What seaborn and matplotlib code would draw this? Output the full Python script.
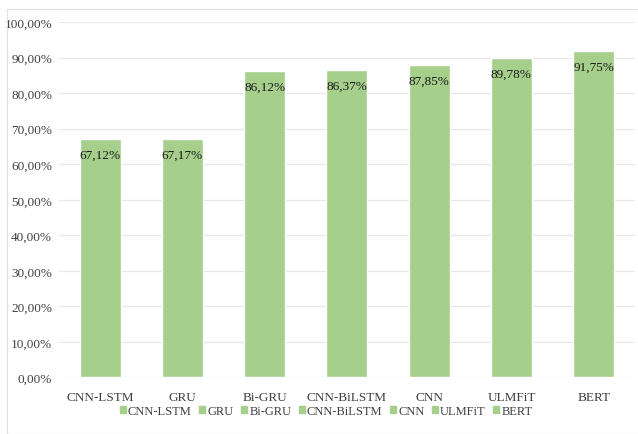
import matplotlib
matplotlib.use("Agg")
import matplotlib.pyplot as plt
import matplotlib.patches as mpatches
import seaborn as sns
import pandas as pd
from matplotlib.ticker import FuncFormatter

models = ["CNN-LSTM", "GRU", "Bi-GRU", "CNN-BiLSTM", "CNN", "ULMFiT", "BERT"]
accuracy = [67.12, 67.17, 86.12, 86.37, 87.85, 89.78, 91.75]
y_ticks = [0, 10, 20, 30, 40, 50, 60, 70, 80, 90, 100]

bar_color = "#A6CF8C"
text_color = "#404040"

sns.set_style("white")
plt.rcParams["font.family"] = ["Liberation Serif", "DejaVu Serif"]

df = pd.DataFrame({"model": models, "accuracy": accuracy})

fig = plt.figure(figsize=(6.38, 4.35), dpi=100)
ax = fig.add_axes([0.0925, 0.13, 0.9025, 0.817])

sns.barplot(data=df, x="model", y="accuracy", hue="model",
            palette=[bar_color] * len(models), width=0.5, dodge=False,
            legend=True, ax=ax, saturation=1)

ax.set_ylim(0, 100)
ax.set_yticks(y_ticks)
ax.yaxis.set_major_formatter(FuncFormatter(lambda v, p: f"{v:.2f}%".replace(".", ",")))
ax.grid(axis="y", color="#E8E8E8", linewidth=0.9)
ax.set_axisbelow(True)
for s in ax.spines.values():
    s.set_visible(False)
ax.set_xlabel("")
ax.set_ylabel("")
ax.tick_params(axis="both", length=0, labelsize=9.5, colors=text_color)
ax.tick_params(axis="x", pad=10)
ax.tick_params(axis="y", pad=5)

for bar, val in zip(ax.patches, accuracy):
    ax.annotate(f"{val:.2f}%".replace(".", ","),
                (bar.get_x() + bar.get_width() / 2, val),
                xytext=(0, -7), textcoords="offset points",
                ha="center", va="top", fontsize=9.5, color="#1a1a1a")

handles = [mpatches.Patch(color=bar_color) for _ in models]
ax.legend(handles, models, loc="center", bbox_to_anchor=(0.464, -0.094),
          ncol=len(models), frameon=False, fontsize=9, handlelength=0.5,
          handleheight=0.5, handletextpad=0.15, columnspacing=0.6,
          labelcolor=text_color, borderpad=0)

fig.patches.append(mpatches.Rectangle((0.011, 0.0), 0.989, 0.977,
                                      transform=fig.transFigure, fill=False,
                                      edgecolor="#E0E0E0", linewidth=0.8))

fig.savefig("out.png", dpi=100)
